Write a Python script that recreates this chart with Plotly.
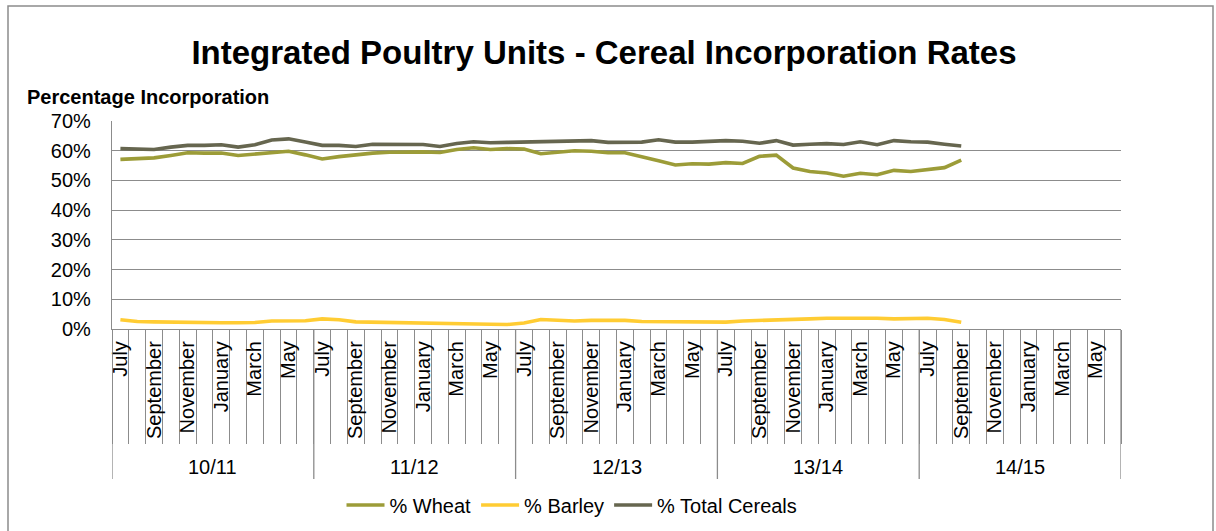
import plotly.graph_objects as go

seasons = ["10/11", "11/12", "12/13", "13/14", "14/15"]
months = ["July", "August", "September", "October", "November", "December",
          "January", "February", "March", "April", "May", "June"]
labelled_months = ["July", "September", "November", "January", "March", "May"]

wheat = [57.1, 57.5, 57.6, 58.4, 59.3, 59.2, 59.2, 58.4, 58.9, 59.3, 59.8, 58.6,
         57.2, 58.0, 58.6, 59.2, 59.5, 59.6, 59.6, 59.4, 60.4, 61.0, 60.4, 60.7,
         60.6, 59.0, 59.6, 60.0, 59.8, 59.3, 59.3, 57.8, 56.6, 55.2, 55.6, 55.5,
         56.0, 55.7, 58.1, 58.5, 54.2, 53.0, 52.5, 51.4, 52.4, 51.9, 53.4, 53.0,
         53.6, 54.3, 56.8]
barley = [3.1, 2.5, 2.4, 2.3, 2.0, 2.0, 2.1, 2.1, 2.2, 2.7, 2.8, 2.8,
          3.4, 3.1, 2.4, 2.3, 2.2, 2.0, 1.8, 1.6, 1.6, 1.6, 1.6, 1.5,
          2.0, 3.2, 2.8, 2.7, 2.9, 2.9, 2.9, 2.5, 2.5, 2.5, 2.3, 2.3,
          2.3, 2.7, 2.8, 2.9, 3.3, 3.4, 3.6, 3.7, 3.6, 3.6, 3.4, 3.4,
          3.6, 3.2, 2.3]
total = [60.7, 60.4, 60.4, 61.2, 61.8, 61.8, 62.0, 61.2, 62.0, 63.6, 64.0, 62.9,
         61.8, 61.8, 61.4, 62.2, 62.2, 62.2, 62.1, 61.4, 62.4, 63.0, 62.7, 62.8,
         62.9, 63.0, 63.2, 63.4, 63.4, 62.8, 63.0, 62.9, 63.7, 62.9, 62.9, 63.2,
         63.4, 63.2, 62.5, 63.4, 61.9, 62.2, 62.4, 62.1, 63.0, 62.0, 63.4, 63.0,
         62.9, 62.2, 61.6]

series = [("% Wheat", wheat, "#9c9c38"),
          ("% Barley", barley, "#ffcc33"),
          ("% Total Cereals", total, "#66664f")]

n_cat = len(seasons) * len(months)
cat_labels = [m for s in seasons for m in months]

FONT = "Liberation Sans, Arial, sans-serif"
GRID = "#8c8c8c"

fig = go.Figure()
for name, vals, col in series:
    fig.add_trace(go.Scatter(x=list(range(len(vals))), y=vals, mode="lines", name=name,
                             line=dict(color=col, width=3.6, shape="linear")))

tickvals = [i for i, m in enumerate(cat_labels) if m in labelled_months]
ticktext = [cat_labels[i] for i in tickvals]
boundaries = [i - 0.5 for i in range(n_cat + 1)]

# plot geometry in screenshot pixels (body margin removed below)
W, H = 1216, 531
PL, PR, PT, PB = 112, 1121, 121, 329  # plot area edges on screen
L, T = PL, PT
R = W - PR
B = H - PB
ph = PB - PT
pw = PR - PL

def py(pix):
    return (PB - pix) / ph

def px(pix):
    return (pix - PL) / pw

shapes = []
for g in range(len(seasons) + 1):
    xb = g * len(months) - 0.5
    shapes.append(dict(type="line", xref="x", yref="paper", x0=xb, x1=xb,
                       y0=0, y1=py(479), line=dict(color=GRID, width=1.3)))
shapes.append(dict(type="rect", xref="paper", yref="paper", x0=px(8), x1=px(1213),
                   y0=py(560), y1=py(6), line=dict(color="#8c8c8c", width=1.5)))

annotations = []
for g, s in enumerate(seasons):
    annotations.append(dict(x=g * len(months) + (len(months) - 1) / 2, y=py(467),
                            xref="x", yref="paper", text=s, showarrow=False,
                            xanchor="center", yanchor="middle",
                            font=dict(size=20, color="#000000", family=FONT)))
annotations.append(dict(x=px(25), y=py(97), xref="paper", yref="paper",
                        text="<b>Percentage Incorporation</b>", showarrow=False,
                        xanchor="left", yanchor="middle",
                        font=dict(size=20, color="#000000", family=FONT)))

fig.update_layout(
    width=W, height=H,
    margin=dict(l=L, r=R, t=T, b=B, autoexpand=False),
    paper_bgcolor="white", plot_bgcolor="white",
    font=dict(family=FONT, size=20, color="#000000"),
    title=dict(text="<b>Integrated Poultry Units - Cereal Incorporation Rates</b>",
               x=604 / W, y=1 - 52 / H, xanchor="center", yanchor="middle",
               font=dict(size=33, color="#000000", family=FONT)),
    showlegend=True,
    legend=dict(orientation="h", x=px(572), y=py(505), xanchor="center", yanchor="middle",
                font=dict(size=20), itemwidth=38, bgcolor="rgba(0,0,0,0)"),
    shapes=shapes,
    annotations=annotations,
    xaxis=dict(range=[-0.5, n_cat - 0.5], tickmode="array", tickvals=tickvals,
               ticktext=ticktext, tickangle=-90, ticks="", showgrid=False,
               showline=True, linecolor=GRID, linewidth=1.3, zeroline=False,
               automargin=False, tickfont=dict(size=20), ticklabelstandoff=3,
               minor=dict(tickmode="array", tickvals=boundaries, ticks="outside",
                          ticklen=114, tickcolor=GRID, tickwidth=1.3, showgrid=False)),
    yaxis=dict(range=[0, 70], dtick=10, ticksuffix="%", showgrid=True, gridcolor=GRID,
               gridwidth=1.3, showline=True, linecolor=GRID, linewidth=1.3,
               automargin=False, zeroline=False, ticks="", tickfont=dict(size=20),
               ticklabelstandoff=16),
)

fig.write_html("out.html", config={"displayModeBar": False},
               post_script="document.body.style.margin='0';document.body.style.overflow='hidden';")
